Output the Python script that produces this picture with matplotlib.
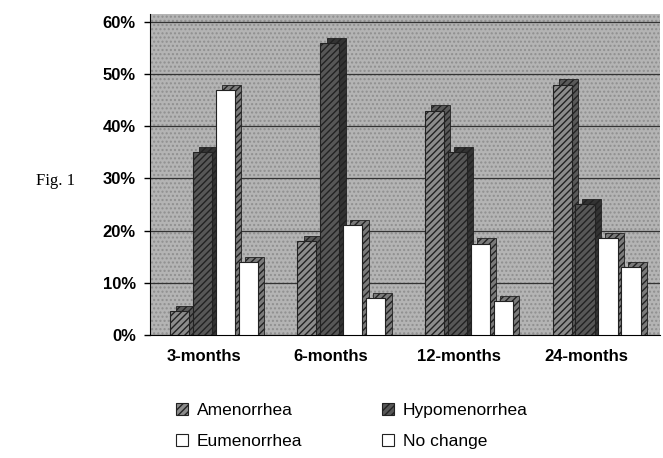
import matplotlib.pyplot as plt
import matplotlib.patches as mpatches
import numpy as np

plt.rcParams['font.family'] = ['Liberation Sans', 'DejaVu Sans']

periods = ['3-months', '6-months', '12-months', '24-months']
amenorrhea = [4.5, 18, 43, 48]
hypomenorrhea = [35, 56, 35, 25]
eumenorrhea = [47, 21, 17.5, 18.5]
no_change = [14, 7, 6.5, 13]

series = [
    ('Amenorrhea', amenorrhea, '#8c8c8c', '#5a5a5a', '/////'),
    ('Hypomenorrhea', hypomenorrhea, '#575757', '#333333', '/////'),
    ('Eumenorrhea', eumenorrhea, '#ffffff', '#7a7a7a', None),
    ('No change', no_change, '#ffffff', '#7a7a7a', None),
]

fig = plt.figure(figsize=(6.63, 4.58), dpi=100)
ax = fig.add_axes([0.226, 0.269, 0.77, 0.70])
ax.set_facecolor('#b4b4b4')
ax.add_patch(mpatches.Rectangle((0, 0), 1, 1, transform=ax.transAxes,
                                facecolor='none', edgecolor='#8f8f8f',
                                hatch='....', lw=0, zorder=0))

x = np.arange(len(periods))
step = 0.18
width = 0.15
depth_x = 0.05
depth_y = 1.0

handles = []
for i, (name, vals, front, side, hatch) in enumerate(series):
    vals = np.array(vals)
    off = (i - 1.5) * step
    ax.bar(x + off + depth_x, vals + depth_y, width, color=side,
           edgecolor='#222222', lw=0.6, hatch='/////', zorder=2 + 2 * i)
    bars = ax.bar(x + off, vals, width, color=front, edgecolor='#222222',
                  lw=0.8, hatch=hatch, zorder=3 + 2 * i, label=name)
    handles.append(bars)

ax.set_xlim(-0.5, 3.5)
ax.set_ylim(0, 61.5)
ax.set_yticks(np.arange(0, 61, 10))
ax.set_yticklabels([f'{v}%' for v in range(0, 61, 10)],
                   fontsize=12, fontweight='bold')
ax.yaxis.grid(True, color='#333333', lw=0.9, zorder=1)
ax.set_axisbelow(True)
ax.set_xticks(x - 0.08)
ax.set_xticklabels(periods, fontsize=12, fontweight='bold')
ax.tick_params(axis='x', length=0, pad=10)
ax.tick_params(axis='y', length=4, width=1, pad=6)
for s in ['top', 'right']:
    ax.spines[s].set_visible(False)
ax.spines['bottom'].set_linestyle((0, (2, 1)))

fig.text(0.055, 0.595, 'Fig. 1', fontsize=12, family='Liberation Serif')

order = [handles[0], handles[2], handles[1], handles[3]]
fig.legend(order, [h.get_label() for h in order], loc='upper left',
           bbox_to_anchor=(0.255, 0.135), ncol=2, frameon=False,
           fontsize=12.5, handlelength=0.7, handleheight=0.7,
           labelspacing=0.9, columnspacing=4.6, handletextpad=0.5,
           borderaxespad=0)

fig.savefig('out.png', dpi=100)
